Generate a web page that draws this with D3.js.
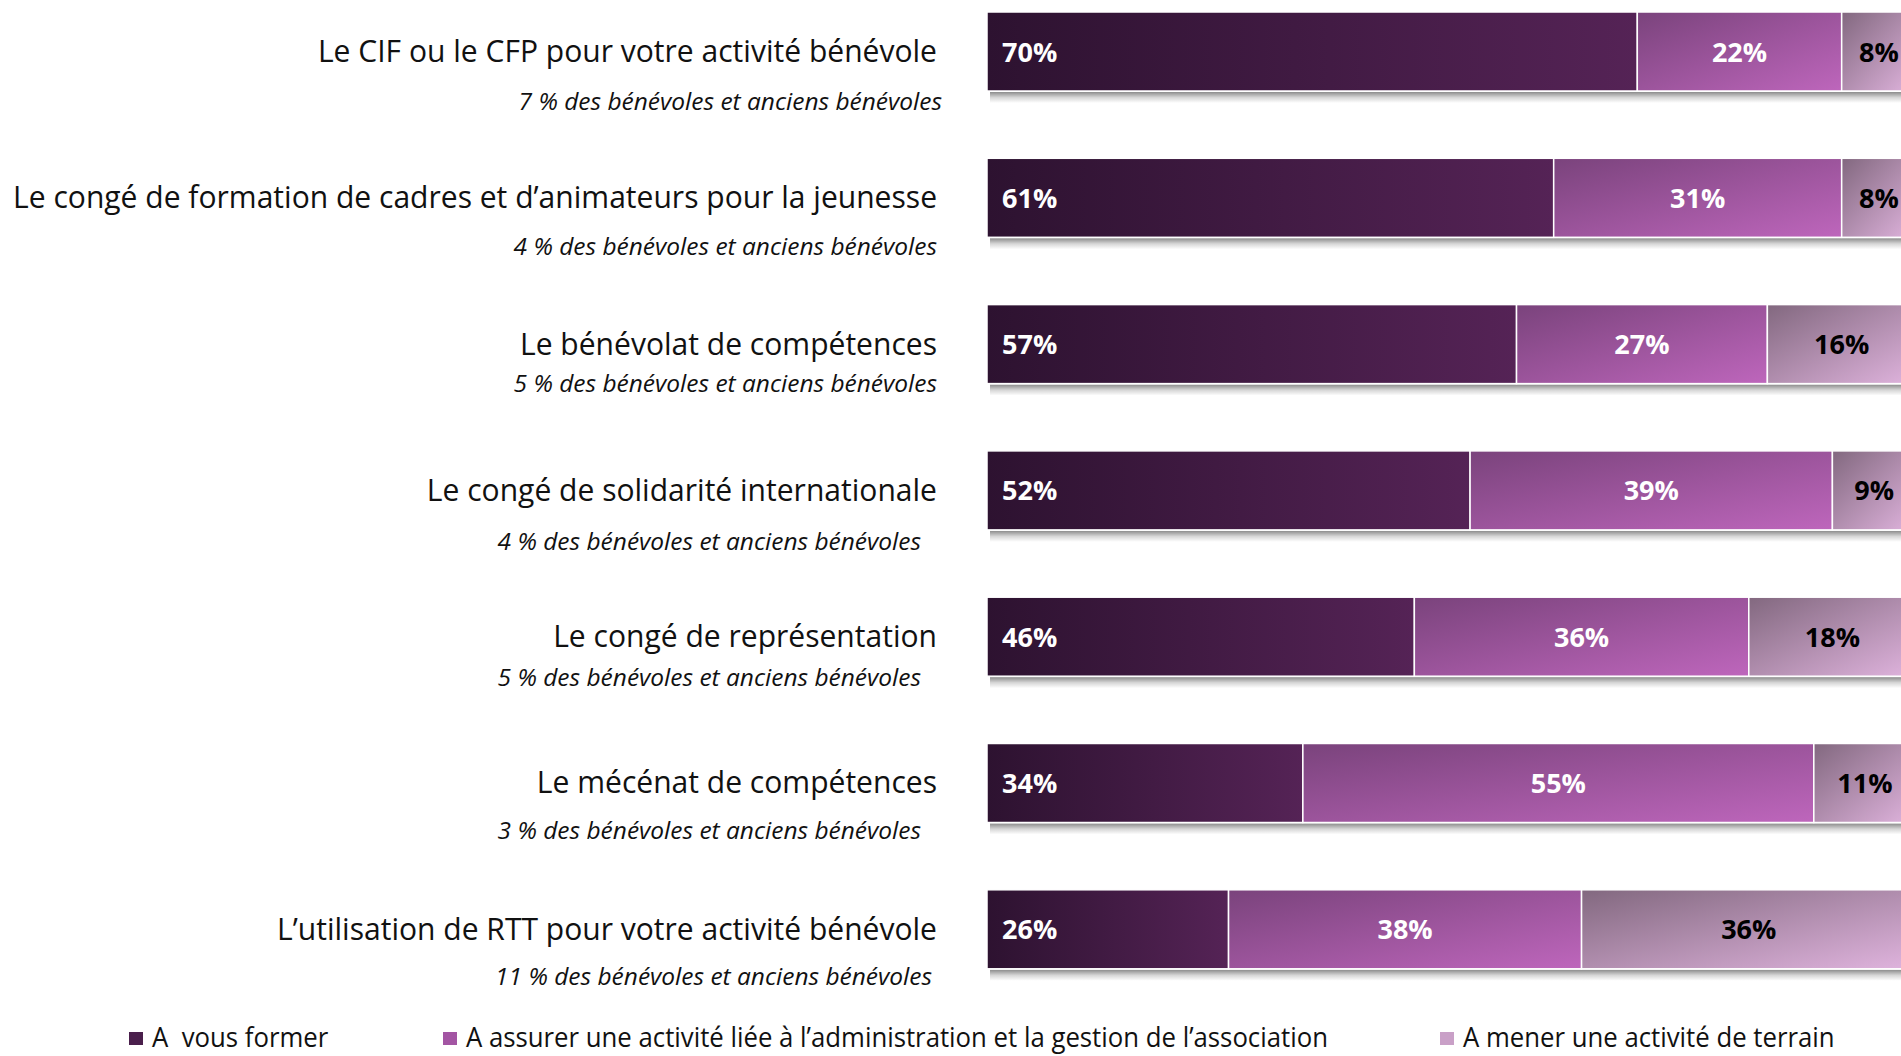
<!DOCTYPE html>
<html><head><meta charset="utf-8">
<script src="https://cdn.jsdelivr.net/npm/d3@7"></script>
<style>body{margin:0;background:#fff;overflow:hidden} svg{display:block}</style>
</head><body>
<script>
// ---- data ----
const categories = [
  "Le CIF ou le CFP pour votre activité bénévole",
  "Le congé de formation de cadres et d’animateurs pour la jeunesse",
  "Le bénévolat de compétences",
  "Le congé de solidarité internationale",
  "Le congé de représentation",
  "Le mécénat de compétences",
  "L’utilisation de RTT pour votre activité bénévole"
];
const subtitles = [
  "7 % des bénévoles et anciens bénévoles",
  "4 % des bénévoles et anciens bénévoles",
  "5 % des bénévoles et anciens bénévoles",
  "4 % des bénévoles et anciens bénévoles",
  "5 % des bénévoles et anciens bénévoles",
  "3 % des bénévoles et anciens bénévoles",
  "11 % des bénévoles et anciens bénévoles"
];
const seriesNames = [
  "A  vous former",
  "A assurer une activité liée à l’administration et la gestion de l’association",
  "A mener une activité de terrain"
];
const former  = [70, 61, 57, 52, 46, 34, 26];
const admin   = [22, 31, 27, 39, 36, 55, 38];
const terrain = [8, 8, 16, 9, 18, 11, 36];

// ---- layout ----
const W = 1901, H = 1056;
const subtitleRight = [942, 937, 937, 921, 921, 921, 932];
const subtitleDy = [98, 97, 87, 99, 89, 96, 95];
const legendX = [129, 443, 1440];
const FONT = "'Open Sans', sans-serif";

const rows = categories.map((c, i) => ({cat: c, sub: subtitles[i], vals: [former[i], admin[i], terrain[i]], i}));
const stack = d3.stack().keys([0,1,2]).value((d, k) => d.vals[k])(rows);

const svg = d3.select("body").append("svg").attr("width", W).attr("height", H);
const defs = svg.append("defs");

function lin(id, x1, y1, x2, y2, stops) {
  const g = defs.append("linearGradient").attr("id", id)
    .attr("x1", x1).attr("y1", y1).attr("x2", x2).attr("y2", y2);
  stops.forEach(s => g.append("stop").attr("offset", s[0]).attr("stop-color", s[1]).attr("stop-opacity", s[2] == null ? 1 : s[2]));
}
lin("g0", 0, 0, 1, 0, [[0, "#2d1230"], [1, "#552356"]]);
lin("g1", 0, 0, 1, 1, [[0, "#7a437c"], [1, "#be66bc"]]);
lin("g2", 0, 0, 1, 1, [[0, "#82687f"], [1, "#e0b4de"]]);
lin("gs", 0, 0, 0, 1, [[0, "#000", 0.45], [0.5, "#000", 0.16], [1, "#000", 0]]);
const fills = ["url(#g0)", "url(#g1)", "url(#g2)"];
const legendFills = ["#4a1f4c", "#a355a3", "#c9a0c7"];
const labelColors = ["#fff", "#fff", "#000"];

const x = d3.scaleLinear().domain([0, 100]).range([987, 1916]);
const y = d3.scaleBand().domain(d3.range(categories.length)).range([12, 968.8]).paddingInner(0.46).paddingOuter(0);
const bw = y.bandwidth();

// shadows
svg.append("g").selectAll("rect").data(rows).join("rect")
  .attr("x", x(0) + 3).attr("y", d => y(d.i) + bw + 1).attr("width", x(100) - x(0))
  .attr("height", 11).attr("fill", "url(#gs)");

// bars
stack.forEach((s, k) => {
  const g = svg.append("g");
  g.selectAll("rect").data(s).join("rect")
    .attr("x", d => x(d[0])).attr("y", d => y(d.data.i))
    .attr("width", d => x(d[1]) - x(d[0])).attr("height", bw)
    .attr("fill", fills[k]).attr("stroke", "#fff").attr("stroke-width", 1.5);
  g.selectAll("text").data(s).join("text")
    .attr("x", d => k === 0 ? x(d[0]) + 15 : (x(d[0]) + x(d[1])) / 2)
    .attr("y", d => y(d.data.i) + bw / 2 + 10)
    .attr("text-anchor", k === 0 ? "start" : "middle")
    .attr("fill", labelColors[k]).attr("font-family", FONT).attr("font-weight", 700)
    .attr("font-size", 27).text(d => d.data.vals[k] + "%");
});

function sx(sel, f, ax) { sel.attr("transform", function(){ const a = ax(this); return `translate(${a},0) scale(${f},1) translate(${-a},0)`; }); }
const ownX = n => +n.getAttribute("x");

// category labels
const lab = svg.append("g").selectAll("text").data(rows).join("text")
  .attr("x", 937).attr("y", d => y(d.i) + bw / 2 + 10.5)
  .attr("text-anchor", "end").attr("font-family", FONT).attr("font-size", 31).attr("fill", "#111")
  .text(d => d.cat);
sx(lab, 0.97, ownX);

const sub = svg.append("g").selectAll("text").data(rows).join("text")
  .attr("x", d => subtitleRight[d.i]).attr("y", d => y(d.i) + subtitleDy[d.i])
  .attr("text-anchor", "end").attr("font-family", FONT).attr("font-style", "italic").attr("font-size", 24).attr("fill", "#111")
  .text(d => d.sub);
sx(sub, 1.02, ownX);

// legend
const lg = svg.append("g").selectAll("g").data(seriesNames).join("g");
lg.append("rect").attr("x", (d, k) => legendX[k]).attr("y", 1032).attr("width", 14).attr("height", 13).attr("fill", (d, k) => legendFills[k]);
const lt = lg.append("text").attr("x", (d, k) => legendX[k] + 23).attr("y", 1047)
  .attr("font-family", FONT).attr("font-size", 28).attr("fill", "#111").style("white-space", "pre").text(d => d);
sx(lt, 0.92, ownX);
</script>
</body></html>
